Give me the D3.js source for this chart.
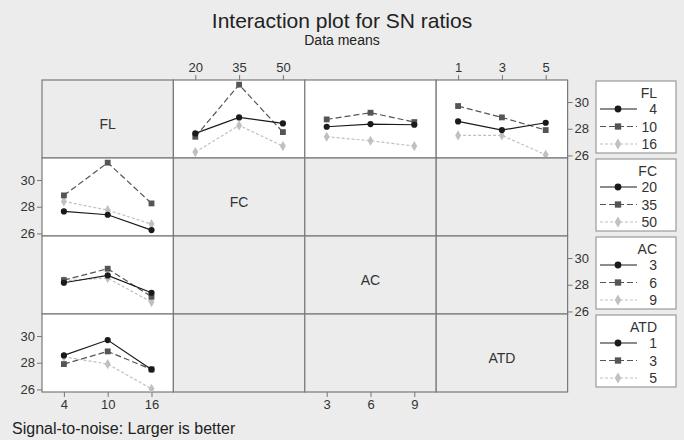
<!DOCTYPE html>
<html>
<head>
<meta charset="utf-8">
<script src="https://cdn.jsdelivr.net/npm/d3@7"></script>
<style>
  body { margin: 0; background: #ececec; }
  svg { display: block; font-family: "Liberation Sans", Arial, sans-serif; }
  .tick text { fill: #333; }
</style>
</head>
<body>
<div class="container"></div>
<script>
// factors and their levels
const factors = ["FL", "FC", "AC", "ATD"];
const flLevels = [4, 10, 16];
const fcLevels = [20, 35, 50];
const acLevels = [3, 6, 9];
const atdLevels = [1, 3, 5];
const yTicks = [26, 28, 30];

// SN ratio means, rows = FL level, cols = level of the other factor
const flFcMeans = [[27.65, 28.85, 28.4], [27.4, 31.3, 27.75], [26.25, 28.25, 26.7]];
const flAcMeans = [[28.15, 28.35, 28.3], [28.7, 29.2, 28.5], [27.4, 27.1, 26.7]];
const flAtdMeans = [[28.55, 27.9, 28.45], [29.7, 28.85, 27.9], [27.5, 27.5, 26.05]];

const drawInteraction = () => {
    const w = 684, h = 440,
        grid = { left: 42, top: 80, cw: 131.4, ch: 78 },
        levels = [flLevels, fcLevels, acLevels, atdLevels],
        means = [null, flFcMeans, flAcMeans, flAtdMeans];

    const styles = [
        { color: "#1a1a1a", dash: null, shape: d3.symbolCircle, size: 30 },
        { color: "#555", dash: "6,3", shape: d3.symbolSquare, size: 34 },
        { color: "#c0c0c0", dash: "3,2", shape: d3.symbolDiamond, size: 30 }
    ];

    const yScale = d3.scaleLinear().domain([25.81, 31.65]).range([grid.ch, 0]);
    const xScale = lv => d3.scalePoint().domain(lv).range([0, grid.cw]).padding(0.5);

    const svg = d3.select("div.container")
        .append("svg")
        .attr("width", w)
        .attr("height", h);

    svg.append("rect").attr("width", w).attr("height", h).attr("fill", "#ececec");

    svg.append("text").attr("x", 342).attr("y", 28)
        .attr("text-anchor", "middle").attr("font-size", 21).attr("fill", "#222")
        .text("Interaction plot for SN ratios");
    svg.append("text").attr("x", 342).attr("y", 45)
        .attr("text-anchor", "middle").attr("font-size", 14).attr("fill", "#222")
        .text("Data means");
    svg.append("text").attr("x", 12).attr("y", 434)
        .attr("font-size", 16).attr("fill", "#222")
        .text("Signal-to-noise: Larger is better");

    const hasPlot = (r, c) => (r === 0 && c > 0) || (c === 0 && r > 0);

    // cells
    for (let r = 0; r < 4; r++) {
        for (let c = 0; c < 4; c++) {
            const g = svg.append("g")
                .attr("transform", `translate(${grid.left + c * grid.cw},${grid.top + r * grid.ch})`);
            g.append("rect")
                .attr("width", grid.cw).attr("height", grid.ch)
                .attr("fill", hasPlot(r, c) ? "#fff" : "#ececec")
                .attr("stroke", "#7a7a7a").attr("stroke-width", 1.2);
            if (r === c) {
                g.append("text").attr("x", grid.cw / 2).attr("y", grid.ch / 2 + 10)
                    .attr("text-anchor", "middle").attr("font-size", 14).attr("fill", "#333")
                    .text(factors[r]);
            }
            if (!hasPlot(r, c)) continue;

            // row 0: x = other factor, lines = FL; col 0: x = FL, lines = other factor
            const other = r === 0 ? c : r,
                m = means[other],
                xLv = r === 0 ? levels[c] : flLevels,
                sx = xScale(xLv);
            const series = d3.range(3).map(s => d3.range(3).map(i =>
                r === 0 ? { x: xLv[i], y: m[s][i] } : { x: xLv[i], y: m[i][s] }));

            const line = d3.line().x(d => sx(d.x)).y(d => yScale(d.y));
            // light series first so the black line sits on top
            [2, 1, 0].forEach(s => {
                const st = styles[s];
                g.append("path").datum(series[s])
                    .attr("d", line).attr("fill", "none")
                    .attr("stroke", st.color).attr("stroke-width", 1.2)
                    .attr("stroke-dasharray", st.dash);
                g.selectAll(null).data(series[s]).enter()
                    .append("path")
                    .attr("transform", d => `translate(${sx(d.x)},${yScale(d.y)})`)
                    .attr("d", d3.symbol().type(st.shape).size(st.size))
                    .attr("fill", st.color);
            });
        }
    }

    // x axes: top for columns 1 and 3, bottom for 0 and 2
    for (let c = 0; c < 4; c++) {
        const top = c % 2 === 1;
        const ax = (top ? d3.axisTop : d3.axisBottom)(xScale(levels[c])).tickSize(5).tickPadding(3);
        const g = svg.append("g")
            .attr("transform", `translate(${grid.left + c * grid.cw},${top ? grid.top : grid.top + 4 * grid.ch})`)
            .call(ax);
        g.select(".domain").remove();
        g.selectAll(".tick line").attr("stroke", "#777");
        g.selectAll(".tick text").attr("font-size", 13).attr("font-family", "Liberation Sans, Arial, sans-serif");
    }

    // y axes: right for rows 0 and 2, left for 1 and 3
    for (let r = 0; r < 4; r++) {
        const right = r % 2 === 0;
        const ax = (right ? d3.axisRight : d3.axisLeft)(yScale)
            .tickValues(yTicks).tickFormat(d3.format("d")).tickSize(5).tickPadding(2);
        const g = svg.append("g")
            .attr("transform", `translate(${right ? grid.left + 4 * grid.cw : grid.left},${grid.top + r * grid.ch})`)
            .call(ax);
        g.select(".domain").remove();
        g.selectAll(".tick line").attr("stroke", "#777");
        g.selectAll(".tick text").attr("font-size", 13).attr("font-family", "Liberation Sans, Arial, sans-serif");
    }

    // legends
    for (let r = 0; r < 4; r++) {
        const g = svg.append("g")
            .attr("transform", `translate(596,${grid.top + r * grid.ch + 1})`);
        g.append("rect").attr("width", 80).attr("height", 72)
            .attr("fill", "#fff").attr("stroke", "#888").attr("stroke-width", 1);
        g.append("text").attr("x", 61).attr("y", 17)
            .attr("text-anchor", "end").attr("font-size", 14).attr("fill", "#333")
            .text(factors[r]);
        levels[r].forEach((lv, i) => {
            const st = styles[i], y = 28 + i * 17.5;
            g.append("line").attr("x1", 4).attr("x2", 41).attr("y1", y).attr("y2", y)
                .attr("stroke", st.color).attr("stroke-width", 1.2)
                .attr("stroke-dasharray", st.dash);
            g.append("path").attr("transform", `translate(22,${y})`)
                .attr("d", d3.symbol().type(st.shape).size(st.size + 6))
                .attr("fill", st.color);
            g.append("text").attr("x", 61).attr("y", y + 5)
                .attr("text-anchor", "end").attr("font-size", 14).attr("fill", "#333")
                .text(lv);
        });
    }
};

drawInteraction();
</script>
</body>
</html>
